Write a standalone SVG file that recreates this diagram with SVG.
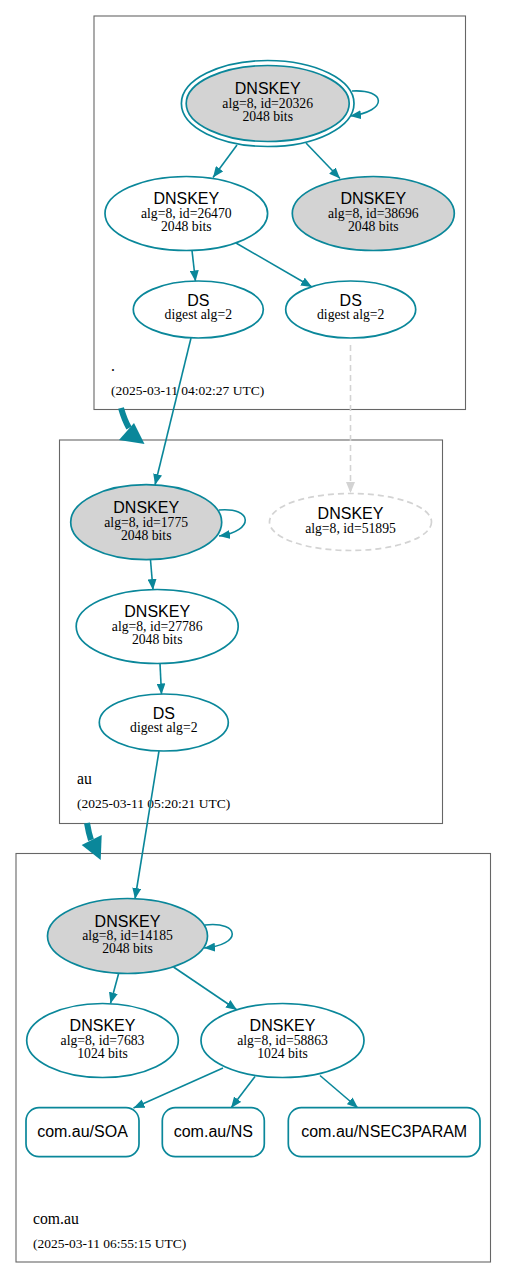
<svg xmlns="http://www.w3.org/2000/svg" width="507" height="1278" viewBox="0 0 507 1278">
<style>
.cl{fill:none;stroke:#666;stroke-width:1.1}
.n{fill:#fff;stroke:#0a879a;stroke-width:1.7}
.g{fill:#d3d3d3}
.dash{fill:#fff;stroke:#d3d3d3;stroke-width:1.7;stroke-dasharray:6,4}
.e{fill:none;stroke:#0a879a;stroke-width:1.6;marker-end:url(#ah)}
.ed{fill:none;stroke:#d3d3d3;stroke-width:1.6;stroke-dasharray:6,4;marker-end:url(#ahg)}
.thick{fill:none;stroke:#0a879a;stroke-width:6}
.t{font-family:"Liberation Sans",Arial,sans-serif;font-size:16px;text-anchor:middle;fill:#000}
.s{font-family:"Liberation Serif","Times New Roman",serif;font-size:13.7px;text-anchor:middle;fill:#000}
.zl{font-family:"Liberation Serif","Times New Roman",serif;font-size:15.7px;fill:#000}
.zd{font-family:"Liberation Serif","Times New Roman",serif;font-size:13.5px;fill:#000}
</style>
<defs>
<marker id="ah" markerWidth="11" markerHeight="9" refX="11" refY="4.5" orient="auto" markerUnits="userSpaceOnUse"><path d="M0,0 L11,4.5 L0,9 z" fill="#0a879a"/></marker>
<marker id="ahg" markerWidth="11" markerHeight="9" refX="11" refY="4.5" orient="auto" markerUnits="userSpaceOnUse"><path d="M0,0 L11,4.5 L0,9 z" fill="#d3d3d3"/></marker>
</defs>

<g id="zone-root">
<rect class="cl" x="94" y="16" width="371.5" height="393.5"/>
<text class="zl" x="111" y="371">.</text>
<text class="zd" x="111" y="395">(2025-03-11 04:02:27 UTC)</text>
</g>
<g id="zone-au">
<rect class="cl" x="59.5" y="440" width="383" height="383.5"/>
<text class="zl" x="77" y="784">au</text>
<text class="zd" x="77" y="808">(2025-03-11 05:20:21 UTC)</text>
</g>
<g id="zone-comau">
<rect class="cl" x="16" y="853.5" width="474.5" height="408.5"/>
<text class="zl" x="33" y="1224">com.au</text>
<text class="zd" x="33" y="1248">(2025-03-11 06:55:15 UTC)</text>
</g>

<g id="connectors">
<path class="e" d="M352,91 C386,89 389,111 350,116"/>
<path class="e" d="M237,145 L213,177.5"/>
<path class="e" d="M306,143 L340,178.5"/>
<path class="e" d="M192,250.5 L195.5,281.5"/>
<path class="e" d="M236,243 L312,287"/>
<path class="e" d="M191,338 L155,485"/>
<path class="ed" d="M350.5,345 L350.5,493"/>
<path class="thick" d="M121,408 C123,415 125,421 129,428"/>
<polygon points="119,440 134,423 144.5,444" fill="#0a879a"/>
<path class="e" d="M219,510 C253,507 255,531 219,536"/>
<path class="e" d="M150.5,560 L153,590"/>
<path class="e" d="M160,663.5 L161.5,694.5"/>
<path class="e" d="M159,751 L135,899"/>
<path class="thick" d="M87,823 C88,829 89,834 91,840"/>
<polygon points="81.7,845 101.7,835 100.7,860" fill="#0a879a"/>
<path class="e" d="M205,925 C241,921 242,945 204,948"/>
<path class="e" d="M118.5,974 L110.5,1003.5"/>
<path class="e" d="M173.5,967 L237,1010"/>
<path class="e" d="M223,1068 L133.5,1108"/>
<path class="e" d="M255,1076.5 L231,1108"/>
<path class="e" d="M320,1075.5 L358,1108"/>
</g>

<g id="dnskey-20326">
<ellipse class="n" cx="267.7" cy="103.5" rx="86.3" ry="43"/>
<ellipse class="n g" cx="267.7" cy="103.5" rx="81.5" ry="38"/>
<text class="t" x="267.7" y="94.3">DNSKEY</text>
<text class="s" x="267.7" y="107.7">alg=8, id=20326</text>
<text class="s" x="267.7" y="120.8">2048 bits</text>
</g>
<g id="dnskey-26470">
<ellipse class="n" cx="186.3" cy="213.5" rx="81.3" ry="37"/>
<text class="t" x="186.3" y="204.3">DNSKEY</text>
<text class="s" x="186.3" y="217.5">alg=8, id=26470</text>
<text class="s" x="186.3" y="230.7">2048 bits</text>
</g>
<g id="dnskey-38696">
<ellipse class="n g" cx="373.3" cy="213.5" rx="81" ry="37"/>
<text class="t" x="373.3" y="204.3">DNSKEY</text>
<text class="s" x="373.3" y="217.5">alg=8, id=38696</text>
<text class="s" x="373.3" y="230.7">2048 bits</text>
</g>
<g id="ds-root-1">
<ellipse class="n" cx="198.3" cy="309.5" rx="65" ry="28.5"/>
<text class="t" x="198.3" y="306">DS</text>
<text class="s" x="198.3" y="319.3">digest alg=2</text>
</g>
<g id="ds-root-2">
<ellipse class="n" cx="350.7" cy="309.5" rx="65" ry="28.5"/>
<text class="t" x="350.7" y="306">DS</text>
<text class="s" x="350.7" y="319.3">digest alg=2</text>
</g>

<g id="dnskey-1775">
<ellipse class="n g" cx="146.2" cy="522.2" rx="75.5" ry="37.5"/>
<text class="t" x="146.2" y="513.3">DNSKEY</text>
<text class="s" x="146.2" y="526.7">alg=8, id=1775</text>
<text class="s" x="146.2" y="539.5">2048 bits</text>
</g>
<g id="dnskey-51895">
<ellipse class="dash" cx="350.5" cy="522" rx="81" ry="28.5"/>
<text class="t" x="350.5" y="519.3">DNSKEY</text>
<text class="s" x="350.5" y="532.5">alg=8, id=51895</text>
</g>
<g id="dnskey-27786">
<ellipse class="n" cx="157.2" cy="626.5" rx="81" ry="37"/>
<text class="t" x="157.2" y="617.3">DNSKEY</text>
<text class="s" x="157.2" y="630.6">alg=8, id=27786</text>
<text class="s" x="157.2" y="643.7">2048 bits</text>
</g>
<g id="ds-au">
<ellipse class="n" cx="163.8" cy="722.5" rx="64.5" ry="28.5"/>
<text class="t" x="163.8" y="719">DS</text>
<text class="s" x="163.8" y="732.3">digest alg=2</text>
</g>

<g id="dnskey-14185">
<ellipse class="n g" cx="127.5" cy="936" rx="80" ry="37.5"/>
<text class="t" x="127.5" y="926.8">DNSKEY</text>
<text class="s" x="127.5" y="940.2">alg=8, id=14185</text>
<text class="s" x="127.5" y="953.3">2048 bits</text>
</g>
<g id="dnskey-7683">
<ellipse class="n" cx="102.5" cy="1040.5" rx="75.8" ry="37"/>
<text class="t" x="102.5" y="1031.3">DNSKEY</text>
<text class="s" x="102.5" y="1044.6">alg=8, id=7683</text>
<text class="s" x="102.5" y="1057.7">1024 bits</text>
</g>
<g id="dnskey-58863">
<ellipse class="n" cx="282.5" cy="1040.5" rx="81.5" ry="37"/>
<text class="t" x="282.5" y="1031.3">DNSKEY</text>
<text class="s" x="282.5" y="1044.6">alg=8, id=58863</text>
<text class="s" x="282.5" y="1057.7">1024 bits</text>
</g>
<g id="rr-soa">
<rect class="n" x="26" y="1107.7" width="113" height="49" rx="13"/>
<text class="t" x="82.5" y="1137">com.au/SOA</text>
</g>
<g id="rr-ns">
<rect class="n" x="162.3" y="1107.7" width="102" height="49" rx="13"/>
<text class="t" x="213.3" y="1137">com.au/NS</text>
</g>
<g id="rr-nsec3param">
<rect class="n" x="288.3" y="1107.7" width="191.7" height="49" rx="13"/>
<text class="t" x="384.2" y="1137">com.au/NSEC3PARAM</text>
</g>
</svg>
